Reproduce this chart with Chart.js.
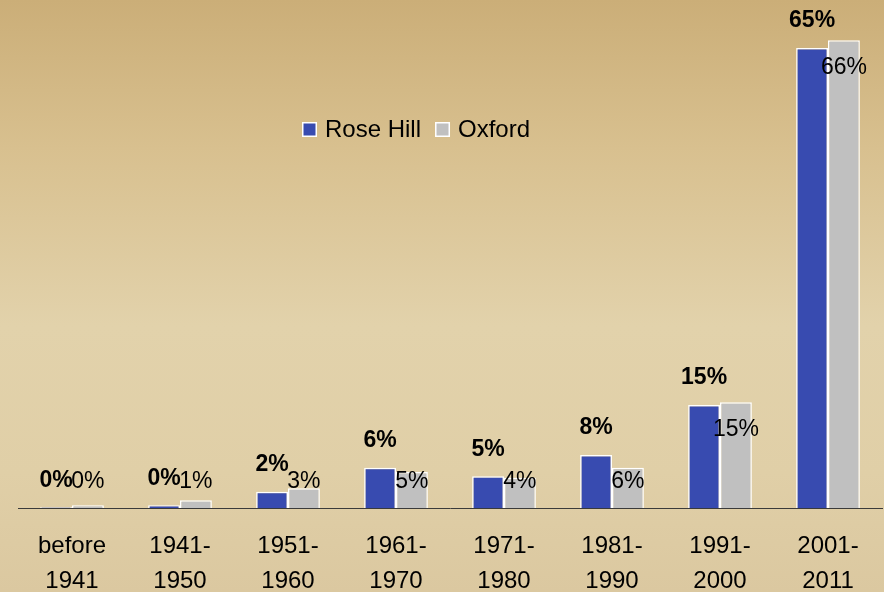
<!DOCTYPE html>
<html>
<head>
<meta charset="utf-8">
<script src="https://cdn.jsdelivr.net/npm/chart.js@4"></script>
<style>
  html, body { margin: 0; padding: 0; }
  body {
    width: 884px; height: 592px; overflow: hidden;
    background: linear-gradient(to bottom, #cbae78 0%, #d8c08f 25%, #e2d2ab 55%, #e0cfa7 80%, #dbc8a0 100%);
  }
  #wrap { width: 884px; height: 592px; }
</style>
</head>
<body>
<div id="wrap"><canvas id="chart"></canvas></div>
<script>
// DATOS
const categorias = [
  ["before", "1941"], ["1941-", "1950"], ["1951-", "1960"], ["1961-", "1970"],
  ["1971-", "1980"], ["1981-", "1990"], ["1991-", "2000"], ["2001-", "2011"]
];
const roseHill = [0.1, 0.4, 2.3, 5.7, 4.5, 7.5, 14.6, 65.2];
const oxford = [0.4, 1.1, 2.8, 5.1, 4.3, 5.7, 15.0, 66.3];

const fuente = "'Liberation Sans', Arial, sans-serif";

// etiquetas de valor (rose hill en negrita encima, oxford dentro)
const etiquetas = {
  id: "etiquetas",
  afterDatasetsDraw(chart) {
    const ctx = chart.ctx;
    const base = chart.scales.y.getPixelForValue(0);
    ctx.save();
    ctx.textAlign = "center";
    ctx.textBaseline = "middle";
    ctx.fillStyle = "#000";
    chart.getDatasetMeta(0).data.forEach((bar, i) => {
      ctx.font = "bold 23px " + fuente;
      ctx.fillText(Math.round(roseHill[i]) + "%", bar.x, bar.y - 27);
    });
    chart.getDatasetMeta(1).data.forEach((bar, i) => {
      ctx.font = "23px " + fuente;
      const y = Math.min(bar.y + 27, base - 26);
      ctx.fillText(Math.round(oxford[i]) + "%", bar.x, y);
    });
    ctx.restore();
  }
};

// leyenda propia
const leyenda = {
  id: "leyenda",
  afterDraw(chart) {
    const ctx = chart.ctx;
    let x = 302;
    const y = 130;
    ctx.save();
    ctx.font = "24px " + fuente;
    ctx.textBaseline = "middle";
    chart.data.datasets.forEach(ds => {
      ctx.fillStyle = "#fff";
      ctx.fillRect(x, y - 8, 15, 15);
      ctx.fillStyle = ds.backgroundColor;
      ctx.fillRect(x + 1.5, y - 6.5, 12, 12);
      ctx.fillStyle = "#000";
      ctx.fillText(ds.label, x + 23, y);
      x += 23 + ctx.measureText(ds.label).width + 14;
    });
    ctx.restore();
  }
};

const config = {
  type: "bar",
  data: {
    labels: categorias,
    datasets: [
      { label: "Rose Hill", data: roseHill, backgroundColor: "#384bb0", borderColor: "#ffffff", borderWidth: 1.5 },
      { label: "Oxford", data: oxford, backgroundColor: "#c0c0c0", borderColor: "#ffffff", borderWidth: 1.5 }
    ]
  },
  options: {
    responsive: false,
    animation: false,
    layout: { padding: { left: 18, right: 2, top: 0, bottom: 0 } },
    datasets: { bar: { categoryPercentage: 0.59, barPercentage: 1 } },
    plugins: { legend: { display: false }, tooltip: { enabled: false } },
    scales: {
      x: {
        grid: { display: false, drawTicks: false },
        border: { display: true, color: "#3a3a3a", width: 1 },
        ticks: {
          color: "#000", padding: 21, maxRotation: 0, autoSkip: false,
          font: { family: fuente, size: 24, lineHeight: "35px" }
        },
        afterFit(s) { s.height = 84; }
      },
      y: { display: false, min: 0, max: 72 }
    }
  },
  plugins: [etiquetas, leyenda]
};

const canvas = document.getElementById("chart");
canvas.width = 884;
canvas.height = 592;
new Chart(canvas, config);
</script>
</body>
</html>
